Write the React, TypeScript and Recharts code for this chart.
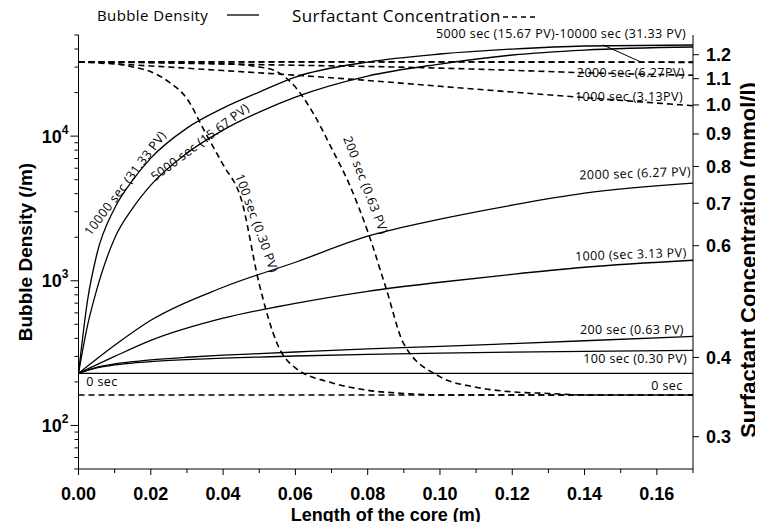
import React from 'react';
import { LineChart, Line, XAxis, YAxis, ReferenceDot, ReferenceLine } from 'recharts';

// length along the core (m)
const xSteep = [0, 0.0025, 0.005, 0.01, 0.015, 0.02, 0.03, 0.04, 0.05, 0.06, 0.08, 0.1, 0.12, 0.14, 0.17];
const xMid = [0, 0.01, 0.02, 0.04, 0.06, 0.08, 0.1, 0.12, 0.14, 0.17];
const xEnds = [0, 0.17];

// bubble density (/m), solid curves
const bd0 = [229, 229];
const bd100 = [229, 240, 250, 262, 270, 276, 285, 292, 297, 302, 310, 316, 321, 325, 330];
const bd200 = [229, 241, 252, 266, 276, 284, 296, 306, 314, 322, 338, 352, 368, 385, 413];
const bd1000 = [229, 300, 387, 551, 698, 846, 977, 1109, 1240, 1387];
const bd2000 = [229, 358, 533, 902, 1343, 2032, 2667, 3334, 4033, 4730];
const bd5000 = [229, 492, 860, 1968, 3176, 4580, 7627, 11010, 14660, 18620, 26020, 31500, 36360, 39360, 41310];
const bd10000 = [229, 733, 1502, 3176, 4960, 7044, 11360, 15620, 20160, 25600, 32520, 36940, 39990, 41970, 42660];

// surfactant concentration (mmol/l), dashed curves
const sc0 = [0.349, 0.349];
const sc100X = [0, 0.005, 0.01, 0.015, 0.02, 0.025, 0.03, 0.035, 0.04, 0.045, 0.05, 0.055, 0.06, 0.07, 0.08, 0.09, 0.1, 0.17];
const sc100 = [1.169, 1.167, 1.162, 1.148, 1.128, 1.087, 1.023, 0.906, 0.805, 0.711, 0.522, 0.42, 0.385, 0.365, 0.355, 0.351, 0.349, 0.349];
const sc200X = [0, 0.02, 0.04, 0.05, 0.055, 0.06, 0.065, 0.07, 0.075, 0.08, 0.085, 0.09, 0.1, 0.11, 0.12, 0.13, 0.14, 0.17];
const sc200 = [1.169, 1.167, 1.162, 1.148, 1.128, 1.067, 0.969, 0.855, 0.748, 0.632, 0.516, 0.42, 0.373, 0.359, 0.353, 0.351, 0.349, 0.349];
const xSlow = [0, 0.02, 0.04, 0.06, 0.08, 0.1, 0.12, 0.14, 0.17];
const sc1000 = [1.169, 1.152, 1.133, 1.114, 1.093, 1.07, 1.048, 1.027, 0.997];
const sc2000 = [1.169, 1.166, 1.16, 1.155, 1.15, 1.143, 1.134, 1.124, 1.114];
const sc5000 = [1.169, 1.169, 1.169, 1.169, 1.169, 1.169, 1.168, 1.168, 1.167];
const sc10000 = [1.17, 1.17, 1.17, 1.17, 1.17, 1.17, 1.169, 1.169, 1.168];

// axis ticks
const densityTicks = [50, 60, 70, 80, 90, 100, 200, 300, 400, 500, 600, 700, 800, 900, 1000,
  2000, 3000, 4000, 5000, 6000, 7000, 8000, 9000, 10000, 20000, 30000, 40000, 50000];
const concTicks = [0.3, 0.4, 0.6, 0.7, 0.8, 0.9, 1.0, 1.1, 1.2];
const lengthTicks = [0, 0.01, 0.02, 0.03, 0.04, 0.05, 0.06, 0.07, 0.08, 0.09, 0.1, 0.11, 0.12, 0.13, 0.14, 0.15, 0.16, 0.17];

// curve annotations (data coords on the density axis)
const notes = [
  { text: '10000 sec (31.33 PV)', x: 0.0129, y: 4730, angle: -53 },
  { text: '5000 sec (15.67 PV)', x: 0.0336, y: 9090, angle: -37 },
  { text: '100 sec (0.30 PV)', x: 0.0494, y: 2500, angle: 70 },
  { text: '200 sec (0.63 PV)', x: 0.0795, y: 4580, angle: 69 },
  { text: '2000 sec (6.27 PV)', x: 0.154, y: 5545, angle: -2 },
  { text: '1000 (sec 3.13 PV)', x: 0.1528, y: 1526, angle: -2 },
  { text: '200 sec (0.63 PV)', x: 0.1531, y: 462, angle: 0 },
  { text: '100 sec (0.30 PV)', x: 0.154, y: 291, angle: 0 },
  { text: '0 sec', x: 0.1628, y: 189, angle: 0 },
  { text: '0 sec', x: 0.0065, y: 202, angle: 0 },
  { text: '5000 sec (15.67 PV)-10000 sec (31.33 PV)', x: 0.1335, y: 51600, angle: 0 },
  { text: '2000 sec (6.27PV)', x: 0.1528, y: 27730, angle: 0 },
  { text: '1000 sec (3.13PV)', x: 0.1523, y: 18920, angle: 0 },
];
const leader = [{ x: 0.1451, y: 42660 }, { x: 0.1556, y: 32520 }];

const toPoints = (xs: number[], ys: number[]) => xs.map((x, i) => ({ x, y: ys[i] }));

const solidSeries = [
  { name: 'bd0', data: toPoints(xEnds, bd0) },
  { name: 'bd100', data: toPoints(xSteep, bd100) },
  { name: 'bd200', data: toPoints(xSteep, bd200) },
  { name: 'bd1000', data: toPoints(xMid, bd1000) },
  { name: 'bd2000', data: toPoints(xMid, bd2000) },
  { name: 'bd5000', data: toPoints(xSteep, bd5000) },
  { name: 'bd10000', data: toPoints(xSteep, bd10000) },
];
const dashedSeries = [
  { name: 'sc0', data: toPoints(xEnds, sc0) },
  { name: 'sc100', data: toPoints(sc100X, sc100) },
  { name: 'sc200', data: toPoints(sc200X, sc200) },
  { name: 'sc1000', data: toPoints(xSlow, sc1000) },
  { name: 'sc2000', data: toPoints(xSlow, sc2000) },
  { name: 'sc5000', data: toPoints(xSlow, sc5000) },
  { name: 'sc10000', data: toPoints(xSlow, sc10000) },
];

const AXIS_FONT = '"Liberation Sans", Arial, sans-serif';
const NOTE_FONT = '"Open Sans", sans-serif';

function DensityTick(props: any) {
  const { x, y, payload } = props;
  const e = Math.log10(payload.value);
  const major = Math.abs(e - Math.round(e)) < 1e-6;
  return (
    <g>
      <line x1={x} x2={x - (major ? 8 : 4)} y1={y} y2={y} stroke="#000" />
      {major && (
        <text x={x - 10} y={y + 6.5} textAnchor="end" fontFamily={AXIS_FONT} fontWeight="bold" fontSize={18} fill="#000">
          10<tspan dy={-9} fontSize={12}>{Math.round(e)}</tspan>
        </text>
      )}
    </g>
  );
}

function ConcTick(props: any) {
  const { x, y, payload } = props;
  return (
    <g>
      <line x1={x} x2={x + 6} y1={y} y2={y} stroke="#000" />
      <text x={x + 13} y={y + 6.5} textAnchor="start" fontFamily={AXIS_FONT} fontWeight="bold" fontSize={18} fill="#000">
        {payload.value.toFixed(1)}
      </text>
    </g>
  );
}

function LengthTick(props: any) {
  const { x, y, payload } = props;
  const major = Math.round(payload.value * 100) % 2 === 0;
  return (
    <g>
      <line x1={x} x2={x} y1={y} y2={y + (major ? 6 : 4)} stroke="#000" />
      {major && (
        <text x={x} y={y + 30.5} textAnchor="middle" fontFamily={AXIS_FONT} fontWeight="bold" fontSize={18} fill="#000">
          {payload.value.toFixed(2)}
        </text>
      )}
    </g>
  );
}

const axisTitle = (text: string, dx: number, dy: number, size: number, rotate: boolean) => (p: any) => {
  const vb = p.viewBox;
  const cx = rotate ? vb.x + dx : vb.x + vb.width / 2 + dx;
  const cy = rotate ? vb.y + vb.height / 2 + dy : vb.y + dy;
  return (
    <text
      x={cx}
      y={cy}
      transform={rotate ? `rotate(-90 ${cx} ${cy})` : undefined}
      textAnchor="middle"
      dominantBaseline="central"
      fontFamily={AXIS_FONT}
      fontWeight="bold"
      fontSize={size}
      fill="#000"
    >
      {text}
    </text>
  );
};

const noteShape = (text: string, angle: number) => (p: any) => (
  <text
    x={p.cx}
    y={p.cy}
    transform={`rotate(${angle} ${p.cx} ${p.cy})`}
    textAnchor="middle"
    dominantBaseline="central"
    fontFamily={NOTE_FONT}
    fontSize={12.5}
    letterSpacing={0.4}
    fill="#000"
  >
    {text}
  </text>
);

export default function App() {
  return (
    <div style={{ position: 'relative', width: 755, height: 522, marginBottom: -8 }}>
      <LineChart width={755} height={522} margin={{ top: 27, right: 10, bottom: 16, left: 10 }}>
        <XAxis
          dataKey="x"
          type="number"
          domain={[0, 0.17]}
          ticks={lengthTicks}
          interval={0}
          allowDataOverflow
          height={45}
          stroke="#000"
          tickLine={false}
          tickSize={0}
          tickMargin={0}
          tick={<LengthTick />}
          label={{ content: axisTitle('Length of the core (m)', 0, 46, 18, false) }}
        />
        <YAxis
          yAxisId="bd"
          scale="log"
          domain={[50, 50000]}
          ticks={densityTicks}
          interval={0}
          allowDataOverflow
          width={60.5}
          stroke="#000"
          tickLine={false}
          tickSize={0}
          tickMargin={0}
          tick={<DensityTick />}
          label={{ content: axisTitle('Bubble Density (/m)', 7, 0, 19, true) }}
        />
        <YAxis
          yAxisId="sc"
          orientation="right"
          scale="log"
          domain={[0.2668, 1.289]}
          ticks={concTicks}
          interval={0}
          allowDataOverflow
          width={60}
          stroke="#000"
          tickLine={false}
          tickSize={0}
          tickMargin={0}
          tick={<ConcTick />}
          label={{ content: axisTitle('Surfactant Concentration (mmol/l)', 55, 8, 22, true) }}
        />
        {solidSeries.map((s) => (
          <Line
            key={s.name}
            yAxisId="bd"
            data={s.data}
            dataKey="y"
            type="monotone"
            stroke="#000"
            strokeWidth={1.3}
            dot={false}
            activeDot={false}
            isAnimationActive={false}
          />
        ))}
        {dashedSeries.map((s) => (
          <Line
            key={s.name}
            yAxisId="sc"
            data={s.data}
            dataKey="y"
            type="monotone"
            stroke="#000"
            strokeWidth={1.6}
            strokeDasharray="6 4"
            dot={false}
            activeDot={false}
            isAnimationActive={false}
          />
        ))}
        <ReferenceLine yAxisId="bd" segment={leader} stroke="#000" strokeWidth={1} ifOverflow="visible" />
        {notes.map((n, i) => (
          <ReferenceDot
            key={i}
            yAxisId="bd"
            x={n.x}
            y={n.y}
            r={0}
            ifOverflow="visible"
            shape={noteShape(n.text, n.angle)}
          />
        ))}
      </LineChart>
      <div style={{ position: 'absolute', left: 89, top: -3, fontFamily: NOTE_FONT, fontSize: 15, letterSpacing: 0.4, lineHeight: '20px' }}>
        Bubble Density
      </div>
      <svg style={{ position: 'absolute', left: 219, top: 2 }} width={32} height={10}>
        <line x1={0} x2={32} y1={5} y2={5} stroke="#000" strokeWidth={1.3} />
      </svg>
      <div style={{ position: 'absolute', left: 284, top: -3, fontFamily: NOTE_FONT, fontSize: 17, letterSpacing: 0.4, lineHeight: '22px' }}>
        Surfactant Concentration
      </div>
      <svg style={{ position: 'absolute', left: 495, top: 4 }} width={34} height={10}>
        <line x1={0} x2={34} y1={5} y2={5} stroke="#000" strokeWidth={1.4} strokeDasharray="5 4" />
      </svg>
    </div>
  );
}
